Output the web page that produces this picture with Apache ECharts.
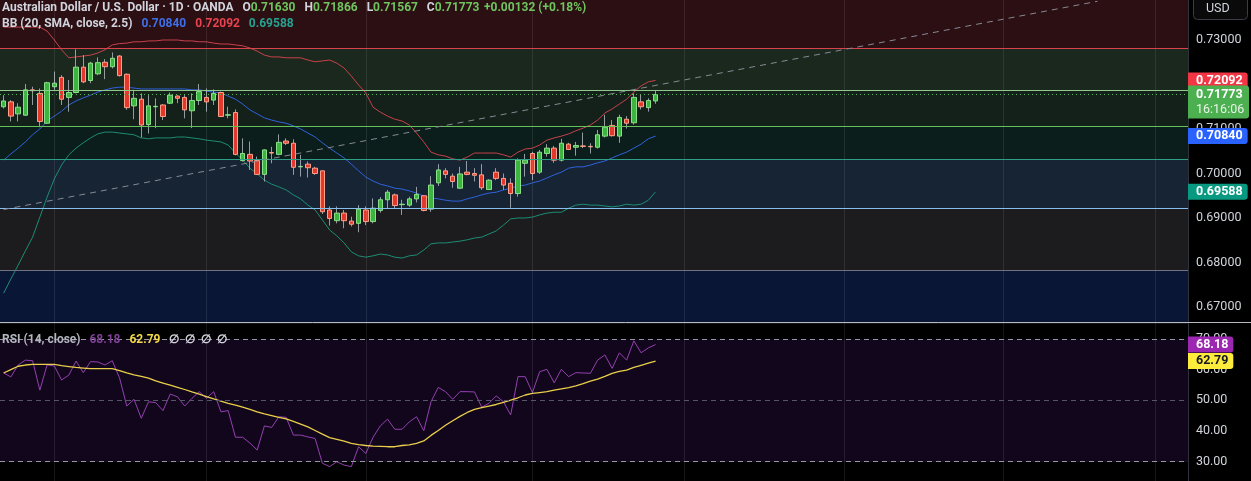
<!DOCTYPE html>
<html>
<head>
<meta charset="utf-8">
<script src="https://cdn.jsdelivr.net/npm/echarts@6/dist/echarts.min.js"></script>
<style>
  html, body { margin: 0; padding: 0; background: #000; }
  #main { width: 1251px; height: 481px; }
</style>
</head>
<body>
<div id="main"></div>
<script>
var myChart = echarts.init(document.getElementById('main'));

var FONT = 'Roboto, "Noto Sans", sans-serif';

// axis ranges of the two panes
var priceMin = 0.66663, priceMax = 0.73899;
var rsiMin = 23.6, rsiMax = 75.23;

// daily slots (last 91 are filled, the rest is empty space on the right)
var slotCount = 164;
var days = [];
for (var i = 0; i < slotCount; i++) days.push('D' + i);

// first trading day of each month (vertical grid lines)
var monthStarts = [7, 28, 50, 73, 94, 116, 138, 159];

// daily candles: [open, high, low, close]
var ohlc = [
  [0.7150, 0.7176, 0.7146, 0.7163], [0.7161, 0.7165, 0.7117, 0.7129], [0.7134, 0.7158, 0.7117, 0.7149],
  [0.7131, 0.7201, 0.7130, 0.7188], [0.7188, 0.7195, 0.7154, 0.7186], [0.7180, 0.7191, 0.7104, 0.7117],
  [0.7113, 0.7206, 0.7112, 0.7204], [0.7195, 0.7229, 0.7188, 0.7203], [0.7216, 0.7221, 0.7154, 0.7167],
  [0.7171, 0.7210, 0.7139, 0.7182], [0.7182, 0.7279, 0.7180, 0.7239], [0.7239, 0.7266, 0.7203, 0.7206],
  [0.7209, 0.7251, 0.7203, 0.7248], [0.7224, 0.7261, 0.7221, 0.7249], [0.7250, 0.7257, 0.7212, 0.7240],
  [0.7240, 0.7272, 0.7236, 0.7259], [0.7264, 0.7266, 0.7218, 0.7220], [0.7223, 0.7225, 0.7143, 0.7148],
  [0.7152, 0.7188, 0.7122, 0.7169], [0.7167, 0.7180, 0.7081, 0.7109], [0.7110, 0.7176, 0.7090, 0.7152],
  [0.7150, 0.7169, 0.7102, 0.7151], [0.7154, 0.7156, 0.7120, 0.7128], [0.7158, 0.7182, 0.7156, 0.7176],
  [0.7174, 0.7176, 0.7158, 0.7169], [0.7171, 0.7176, 0.7124, 0.7143], [0.7141, 0.7180, 0.7102, 0.7164],
  [0.7164, 0.7201, 0.7154, 0.7184], [0.7171, 0.7191, 0.7139, 0.7161], [0.7165, 0.7189, 0.7154, 0.7180],
  [0.7182, 0.7184, 0.7127, 0.7128], [0.7131, 0.7150, 0.7124, 0.7132], [0.7137, 0.7144, 0.7041, 0.7043],
  [0.7029, 0.7079, 0.7027, 0.7045], [0.7043, 0.7072, 0.7008, 0.7028], [0.7029, 0.7038, 0.6997, 0.6998],
  [0.6998, 0.7054, 0.6982, 0.7053], [0.7047, 0.7060, 0.7023, 0.7046], [0.7043, 0.7088, 0.7041, 0.7070],
  [0.7073, 0.7079, 0.7064, 0.7068], [0.7068, 0.7077, 0.6997, 0.7014], [0.7015, 0.7042, 0.6993, 0.7016],
  [0.7021, 0.7027, 0.6991, 0.7013], [0.7012, 0.7015, 0.6997, 0.7000], [0.7006, 0.7006, 0.6909, 0.6914],
  [0.6918, 0.6926, 0.6883, 0.6899], [0.6894, 0.6926, 0.6888, 0.6911], [0.6911, 0.6918, 0.6877, 0.6894],
  [0.6893, 0.6903, 0.6881, 0.6886], [0.6888, 0.6929, 0.6868, 0.6920], [0.6918, 0.6926, 0.6884, 0.6892],
  [0.6892, 0.6944, 0.6888, 0.6922], [0.6917, 0.6947, 0.6912, 0.6941], [0.6941, 0.6963, 0.6922, 0.6958],
  [0.6952, 0.6955, 0.6922, 0.6928], [0.6930, 0.6941, 0.6907, 0.6931], [0.6929, 0.6948, 0.6925, 0.6943],
  [0.6943, 0.6970, 0.6935, 0.6953], [0.6950, 0.6951, 0.6915, 0.6917], [0.6920, 0.6994, 0.6914, 0.6974],
  [0.6979, 0.7021, 0.6972, 0.7008], [0.7006, 0.7012, 0.6989, 0.6998], [0.6994, 0.7000, 0.6968, 0.6982],
  [0.6967, 0.7015, 0.6965, 0.6999], [0.7003, 0.7028, 0.6996, 0.6998], [0.7000, 0.7012, 0.6982, 0.6996],
  [0.6997, 0.7021, 0.6963, 0.6968], [0.6964, 0.6987, 0.6963, 0.6985], [0.7003, 0.7012, 0.6985, 0.6989],
  [0.6989, 0.7000, 0.6963, 0.6974], [0.6978, 0.6989, 0.6923, 0.6955], [0.6955, 0.7034, 0.6948, 0.7030],
  [0.7023, 0.7044, 0.6993, 0.7030], [0.7045, 0.7049, 0.6985, 0.7000], [0.7003, 0.7053, 0.6999, 0.7048],
  [0.7045, 0.7066, 0.7038, 0.7057], [0.7057, 0.7062, 0.7024, 0.7030], [0.7030, 0.7078, 0.7027, 0.7068],
  [0.7066, 0.7069, 0.7053, 0.7054], [0.7059, 0.7071, 0.7040, 0.7063], [0.7062, 0.7092, 0.7057, 0.7061],
  [0.7061, 0.7068, 0.7045, 0.7060], [0.7059, 0.7098, 0.7056, 0.7087], [0.7084, 0.7132, 0.7081, 0.7104],
  [0.7108, 0.7120, 0.7083, 0.7085], [0.7084, 0.7132, 0.7069, 0.7126], [0.7122, 0.7129, 0.7101, 0.7113],
  [0.7114, 0.7180, 0.7110, 0.7171], [0.7161, 0.7178, 0.7144, 0.7150], [0.7148, 0.7169, 0.7139, 0.71641],
  [0.71630, 0.71866, 0.71567, 0.71773]
];

// Bollinger Bands (20, SMA, close, 2.5)
var bbUpper = [
  0.7329, 0.7329, 0.7329, 0.7329, 0.7329, 0.7329, 0.7320, 0.7300, 0.7278, 0.7260,
  0.7262, 0.7264, 0.7266, 0.7271, 0.7278, 0.7289, 0.7292, 0.7293, 0.7296, 0.7296,
  0.7298, 0.7298, 0.7300, 0.7300, 0.7300, 0.7298, 0.7298, 0.7296, 0.7296, 0.7293,
  0.7291, 0.7291, 0.7289, 0.7287, 0.7282, 0.7275, 0.7266, 0.7262, 0.7262, 0.7260,
  0.7260, 0.7260, 0.7255, 0.7251, 0.7253, 0.7255, 0.7248, 0.7237, 0.7219, 0.7199,
  0.7181, 0.7149, 0.7138, 0.7129, 0.7122, 0.7118, 0.7109, 0.7091, 0.7071, 0.7048,
  0.7042, 0.7039, 0.7033, 0.7030, 0.7037, 0.7046, 0.7046, 0.7046, 0.7046, 0.7042,
  0.7037, 0.7048, 0.7055, 0.7057, 0.7064, 0.7075, 0.7080, 0.7084, 0.7089, 0.7096,
  0.7102, 0.7109, 0.7120, 0.7136, 0.7145, 0.7156, 0.7167, 0.7183, 0.7197, 0.7206,
  0.72092
];
var bbMiddle = [
  0.7030, 0.7044, 0.7057, 0.7071, 0.7087, 0.7100, 0.7118, 0.7129, 0.7140, 0.7154,
  0.7163, 0.7170, 0.7176, 0.7183, 0.7188, 0.7192, 0.7194, 0.7194, 0.7192, 0.7190,
  0.7190, 0.7190, 0.7190, 0.7190, 0.7190, 0.7190, 0.7188, 0.7188, 0.7185, 0.7183,
  0.7181, 0.7174, 0.7167, 0.7156, 0.7143, 0.7134, 0.7125, 0.7120, 0.7116, 0.7113,
  0.7107, 0.7100, 0.7091, 0.7082, 0.7069, 0.7057, 0.7046, 0.7035, 0.7021, 0.7006,
  0.6992, 0.6983, 0.6976, 0.6972, 0.6967, 0.6965, 0.6961, 0.6956, 0.6949, 0.6945,
  0.6943, 0.6940, 0.6938, 0.6938, 0.6943, 0.6947, 0.6952, 0.6956, 0.6958, 0.6963,
  0.6967, 0.6972, 0.6974, 0.6979, 0.6983, 0.6990, 0.6997, 0.7003, 0.7012, 0.7015,
  0.7015, 0.7019, 0.7024, 0.7028, 0.7035, 0.7042, 0.7048, 0.7057, 0.7066, 0.7078,
  0.70840
];
var bbLower = [
  0.6731, 0.6763, 0.6794, 0.6826, 0.6857, 0.6902, 0.6947, 0.6988, 0.7019, 0.7042,
  0.7057, 0.7069, 0.7080, 0.7089, 0.7093, 0.7093, 0.7091, 0.7089, 0.7087, 0.7080,
  0.7078, 0.7080, 0.7080, 0.7080, 0.7082, 0.7082, 0.7080, 0.7078, 0.7075, 0.7073,
  0.7071, 0.7064, 0.7046, 0.7030, 0.7012, 0.6999, 0.6985, 0.6976, 0.6970, 0.6963,
  0.6952, 0.6943, 0.6929, 0.6918, 0.6896, 0.6873, 0.6860, 0.6844, 0.6824, 0.6815,
  0.6812, 0.6815, 0.6819, 0.6817, 0.6812, 0.6810, 0.6815, 0.6817, 0.6828, 0.6842,
  0.6844, 0.6844, 0.6846, 0.6848, 0.6851, 0.6855, 0.6857, 0.6864, 0.6871, 0.6884,
  0.6898, 0.6900, 0.6900, 0.6902, 0.6907, 0.6911, 0.6913, 0.6913, 0.6922, 0.6929,
  0.6931, 0.6929, 0.6929, 0.6927, 0.6925, 0.6927, 0.6931, 0.6929, 0.6931, 0.6940,
  0.69588
];

// RSI (14, close) and its moving average
var rsi = [
  58.9, 57.6, 61.5, 63.1, 62.9, 53.3, 61.5, 61.2, 56.6, 58.2,
  62.8, 59.0, 62.6, 62.5, 61.5, 62.9, 57.3, 48.1, 50.3, 44.1,
  49.5, 49.2, 46.6, 52.0, 51.1, 48.1, 50.6, 52.8, 50.6, 52.8,
  46.2, 46.6, 37.9, 37.9, 36.0, 33.7, 41.6, 41.1, 44.6, 44.4,
  38.6, 38.6, 38.0, 37.5, 29.4, 28.3, 29.9, 28.8, 28.3, 34.8,
  32.6, 37.9, 41.6, 43.8, 40.5, 40.5, 42.9, 44.6, 40.0, 49.5,
  54.2, 52.8, 50.3, 52.8, 52.8, 52.7, 47.7, 49.0, 51.4, 49.5,
  45.2, 57.7, 57.7, 52.5, 59.3, 60.1, 55.7, 60.1, 57.7, 59.0,
  58.9, 58.8, 63.1, 64.8, 60.4, 65.5, 63.1, 69.4, 65.5, 67.1,
  68.18
];
var rsiMa = [
  58.9, 60.0, 61.1, 61.5, 61.7, 61.7, 61.7, 61.7, 61.3, 61.0,
  60.7, 60.5, 60.3, 60.3, 60.3, 60.3, 59.7, 58.9, 58.3, 57.8,
  57.2, 56.3, 55.6, 54.9, 54.2, 53.5, 52.7, 52.0, 51.2, 50.4,
  49.7, 49.0, 48.4, 47.7, 47.0, 46.2, 45.5, 45.0, 44.4, 43.9,
  43.1, 42.2, 41.3, 40.1, 38.9, 37.8, 37.2, 36.6, 35.9, 35.5,
  35.2, 35.0, 34.9, 34.8, 34.8, 35.2, 35.4, 35.9, 36.7, 38.5,
  40.1, 41.8, 43.3, 44.7, 46.0, 47.0, 47.6, 48.1, 48.6, 49.3,
  50.0, 50.8, 51.7, 52.2, 52.5, 52.8, 53.3, 53.7, 54.1, 54.7,
  55.4, 56.2, 56.9, 57.8, 58.8, 59.4, 59.8, 60.7, 61.4, 62.1,
  62.79
];

// hand drawn horizontal levels (top to bottom) and the zones between them
var levels = [0.7281, 0.7187, 0.7107, 0.7032, 0.6922, 0.6782];
var levelColors = ['#d9434b', '#8fca8c', '#63c25a', '#2e9f86', '#86bfee', '#6f7380'];
var zoneColors = ['#2b0f13', '#1b281e', '#14201a', '#0b1e1b', '#162433', '#1c1c1f', '#0a1636'];

// dashed trend line: [day index, price]
var trendLine = [[0, 0.6919], [151, 0.7387]];
var countdown = '16:16:06';

var n = ohlc.length;
var last = ohlc[n - 1];
var change = last[3] - ohlc[n - 2][3];
var pct = change / ohlc[n - 2][3] * 100;

var wickData = ohlc.map(function (d) { return [d[0], d[3], d[2], d[1]]; });
var bodyData = ohlc.map(function (d) {
  return [d[0], d[3], Math.min(d[0], d[3]), Math.max(d[0], d[3])];
});

var zoneEdges = [priceMax].concat(levels, [priceMin]);
var zones = [];
for (var z = 0; z < zoneColors.length; z++) {
  zones.push([{ yAxis: zoneEdges[z], itemStyle: { color: zoneColors[z] } }, { yAxis: zoneEdges[z + 1] }]);
}

function tag(value, bg, fg, text) {
  return {
    yAxis: value,
    lineStyle: { color: 'transparent', width: 0 },
    label: {
      show: true, position: 'end', distance: 0,
      formatter: text,
      backgroundColor: bg, color: fg,
      fontFamily: FONT, fontSize: 12.5, fontWeight: 'bold',
      padding: [2, 5, 1, 8], borderRadius: [0, 3, 3, 0]
    }
  };
}

function gridLine() {
  return { color: 'rgba(255,255,255,0.09)', width: 1, type: 'solid' };
}
var monthLines = monthStarts.map(function (m) { return { xAxis: days[m], lineStyle: gridLine() }; });
var monthLinesRsi = monthStarts.map(function (m) { return { xAxis: days[m], lineStyle: gridLine() }; });

var option = {
  backgroundColor: '#000',
  animation: false,
  textStyle: { fontFamily: FONT },
  title: [{
    left: 2, top: -1, padding: 0,
    text: '{t|Australian Dollar / U.S. Dollar · 1D · OANDA}  {t|O}{g|' + last[0].toFixed(5) +
      '}  {t|H}{g|' + last[1].toFixed(5) + '}  {t|L}{g|' + last[2].toFixed(5) +
      '}  {t|C}{g|' + last[3].toFixed(5) + '} {g|' + (change >= 0 ? '+' : '') + change.toFixed(5) +
      ' (' + (pct >= 0 ? '+' : '') + pct.toFixed(2) + '%)}',
    textStyle: { rich: {
      t: { color: '#d1d4dc', fontSize: 12, fontFamily: FONT },
      g: { color: '#6fc45f', fontSize: 12, fontFamily: FONT }
    } }
  }, {
    left: 2, top: 15, padding: 0,
    text: '{t|BB (20, SMA, close, 2.5)}  {b|' + bbMiddle[n - 1].toFixed(5) + '}  {r|' +
      bbUpper[n - 1].toFixed(5) + '}  {e|' + bbLower[n - 1].toFixed(5) + '}',
    textStyle: { rich: {
      t: { color: '#d1d4dc', fontSize: 12, fontFamily: FONT },
      b: { color: '#3f6fe8', fontSize: 12, fontFamily: FONT },
      r: { color: '#e8434f', fontSize: 12, fontFamily: FONT },
      e: { color: '#26a190', fontSize: 12, fontFamily: FONT }
    } }
  }, {
    left: 2, top: 331, padding: 0,
    text: '{t|RSI (14, close)}  {p|' + rsi[n - 1].toFixed(2) + '}  {y|' + rsiMa[n - 1].toFixed(2) +
      '}  {w|∅  ∅  ∅  ∅}',
    textStyle: { rich: {
      t: { color: '#b2b5be', fontSize: 12, fontFamily: FONT },
      p: { color: '#7e3f96', fontSize: 12, fontFamily: FONT },
      y: { color: '#f0d84a', fontSize: 12, fontFamily: FONT },
      w: { color: '#d1d4dc', fontSize: 12, fontFamily: FONT }
    } }
  }],
  grid: [
    { left: -2.5, top: 0, width: 1190.5, height: 322 },
    { left: -2.5, top: 323, width: 1190.5, height: 158 }
  ],
  xAxis: [
    { type: 'category', gridIndex: 0, data: days, boundaryGap: true,
      axisLine: { show: false }, axisTick: { show: false }, axisLabel: { show: false }, splitLine: { show: false } },
    { type: 'category', gridIndex: 1, data: days, boundaryGap: true,
      axisLine: { show: false }, axisTick: { show: false }, axisLabel: { show: false }, splitLine: { show: false } }
  ],
  yAxis: [{
    type: 'value', gridIndex: 0, position: 'right', min: priceMin, max: priceMax, splitNumber: 7,
    axisLine: { show: true, lineStyle: { color: '#2f323b' } },
    axisTick: { show: false },
    axisLabel: { color: '#d1d4dc', fontSize: 12.5, fontFamily: FONT, margin: 8,
      showMinLabel: false, showMaxLabel: false,
      formatter: function (v) { return v.toFixed(5); } },
    splitLine: { show: true, lineStyle: gridLine() }
  }, {
    type: 'value', gridIndex: 1, position: 'right', min: rsiMin, max: rsiMax, splitNumber: 5,
    axisLine: { show: true, lineStyle: { color: '#2f323b' } },
    axisTick: { show: false },
    axisLabel: { color: '#d1d4dc', fontSize: 12.5, fontFamily: FONT, margin: 8,
      showMinLabel: false, showMaxLabel: false,
      formatter: function (v) { return v.toFixed(2); } },
    splitLine: { show: true, lineStyle: gridLine() }
  }],
  graphic: [
    { type: 'line', shape: { x1: 0, y1: 322.5, x2: 1251, y2: 322.5 }, style: { stroke: '#b8bbc4', lineWidth: 1 }, z: 20 },
    { type: 'rect', shape: { x: 1193.5, y: -5.5, width: 54, height: 25, r: 4 },
      style: { fill: '#0a0a0a', stroke: '#3a3d46', lineWidth: 1 }, z: 20 },
    { type: 'text', x: 1206, y: 2, style: { text: 'USD', fill: '#d1d4dc', font: '12.5px ' + FONT }, z: 21 }
  ],
  series: [
    // background zones of the price pane
    { name: 'zones', type: 'line', xAxisIndex: 0, yAxisIndex: 0, data: [], z: -1, silent: true,
      markArea: { silent: true, data: zones } },
    // RSI band background
    { name: 'rsiBand', type: 'line', xAxisIndex: 1, yAxisIndex: 1, data: [], z: -1, silent: true,
      markArea: { silent: true, itemStyle: { color: '#12061c' }, data: [[{ yAxis: 70 }, { yAxis: 30 }]] } },
    // month lines, levels, trend line on the price pane
    { name: 'drawings', type: 'line', xAxisIndex: 0, yAxisIndex: 0, data: [], z: 1, silent: true,
      markLine: {
        silent: true, precision: 5, symbol: ['none', 'none'], label: { show: false },
        data: monthLines
          .concat(levels.map(function (v, k) {
            return { yAxis: v, lineStyle: { color: levelColors[k], width: 1, type: 'solid' } };
          }))
          .concat([
            { yAxis: last[3], lineStyle: { color: '#5cb85c', width: 1, type: [1, 3] } },
            [{ coord: [days[trendLine[0][0]], trendLine[0][1]] },
             { coord: [days[trendLine[1][0]], trendLine[1][1]], lineStyle: { color: '#868993', width: 1, type: [6, 5] } }]
          ])
      } },
    // month lines and 70/50/30 levels on the RSI pane
    { name: 'rsiLines', type: 'line', xAxisIndex: 1, yAxisIndex: 1, data: [], z: 1, silent: true,
      markLine: {
        silent: true, precision: 2, symbol: ['none', 'none'], label: { show: false },
        data: monthLinesRsi
          .concat([
            { yAxis: 70, lineStyle: { color: '#9598a1', width: 1, type: [5, 4] } },
            { yAxis: 50, lineStyle: { color: '#55566a', width: 1, type: [5, 4] } },
            { yAxis: 30, lineStyle: { color: '#9598a1', width: 1, type: [5, 4] } }
          ])
      } },
    { name: 'BB Upper', type: 'line', xAxisIndex: 0, yAxisIndex: 0, data: bbUpper, z: 2,
      symbol: 'none', lineStyle: { color: '#c7414b', width: 1 } },
    { name: 'BB Basis', type: 'line', xAxisIndex: 0, yAxisIndex: 0, data: bbMiddle, z: 2,
      symbol: 'none', lineStyle: { color: '#2f62dd', width: 1 } },
    { name: 'BB Lower', type: 'line', xAxisIndex: 0, yAxisIndex: 0, data: bbLower, z: 2,
      symbol: 'none', lineStyle: { color: '#1d8c74', width: 1 } },
    { name: 'wicks', type: 'candlestick', xAxisIndex: 0, yAxisIndex: 0, data: wickData, z: 3,
      barWidth: 1,
      itemStyle: { color: '#b8bbc4', color0: '#b8bbc4', borderColor: '#b8bbc4', borderColor0: '#b8bbc4', borderWidth: 0.8 } },
    { name: 'bodies', type: 'candlestick', xAxisIndex: 0, yAxisIndex: 0, data: bodyData, z: 4,
      barWidth: 5,
      itemStyle: { color: '#3cb43f', color0: '#e3392c', borderColor: '#8be08a', borderColor0: '#ffa08a', borderWidth: 1 } },
    { name: 'RSI', type: 'line', xAxisIndex: 1, yAxisIndex: 1, data: rsi, z: 3,
      symbol: 'none', lineStyle: { color: '#9440b0', width: 1 } },
    { name: 'RSI MA', type: 'line', xAxisIndex: 1, yAxisIndex: 1, data: rsiMa, z: 3,
      symbol: 'none', lineStyle: { color: '#e9cf4a', width: 1.3 } },
    // last value tags on the price scale
    { name: 'priceTags', type: 'line', xAxisIndex: 0, yAxisIndex: 0, data: [], z: 10, silent: true,
      markLine: {
        silent: true, precision: 5, symbol: ['none', 'none'],
        data: [
          tag(bbUpper[n - 1], '#f23645', '#fff', bbUpper[n - 1].toFixed(5)),
          tag(bbMiddle[n - 1], '#2962ff', '#fff', bbMiddle[n - 1].toFixed(5)),
          tag(bbLower[n - 1], '#089981', '#fff', bbLower[n - 1].toFixed(5)),
          {
            yAxis: last[3],
            lineStyle: { color: 'transparent', width: 0 },
            label: {
              show: true, position: 'end', distance: 0,
              formatter: '{s| }\n{a|' + last[3].toFixed(5) + '}\n{b|' + countdown + '}',
              rich: {
                s: { height: 15, lineHeight: 15 },
                a: { backgroundColor: '#4caf50', color: '#fff', fontFamily: FONT, fontSize: 12.5, fontWeight: 'bold',
                     width: 49, height: 16, lineHeight: 16, padding: [1, 4, 0, 8], borderRadius: [0, 3, 0, 0] },
                b: { backgroundColor: '#4caf50', color: '#e8f5e9', fontFamily: FONT, fontSize: 12.5,
                     width: 49, height: 16, lineHeight: 16, padding: [0, 4, 1, 8], borderRadius: [0, 0, 3, 0] }
              }
            }
          }
        ]
      } },
    { name: 'rsiTags', type: 'line', xAxisIndex: 1, yAxisIndex: 1, data: [], z: 10, silent: true,
      markLine: {
        silent: true, precision: 2, symbol: ['none', 'none'],
        data: [
          tag(rsi[n - 1], '#9c27b0', '#fff', rsi[n - 1].toFixed(2)),
          tag(rsiMa[n - 1], '#ffeb3b', '#131722', rsiMa[n - 1].toFixed(2))
        ]
      } }
  ]
};

myChart.setOption(option);
</script>
</body>
</html>
